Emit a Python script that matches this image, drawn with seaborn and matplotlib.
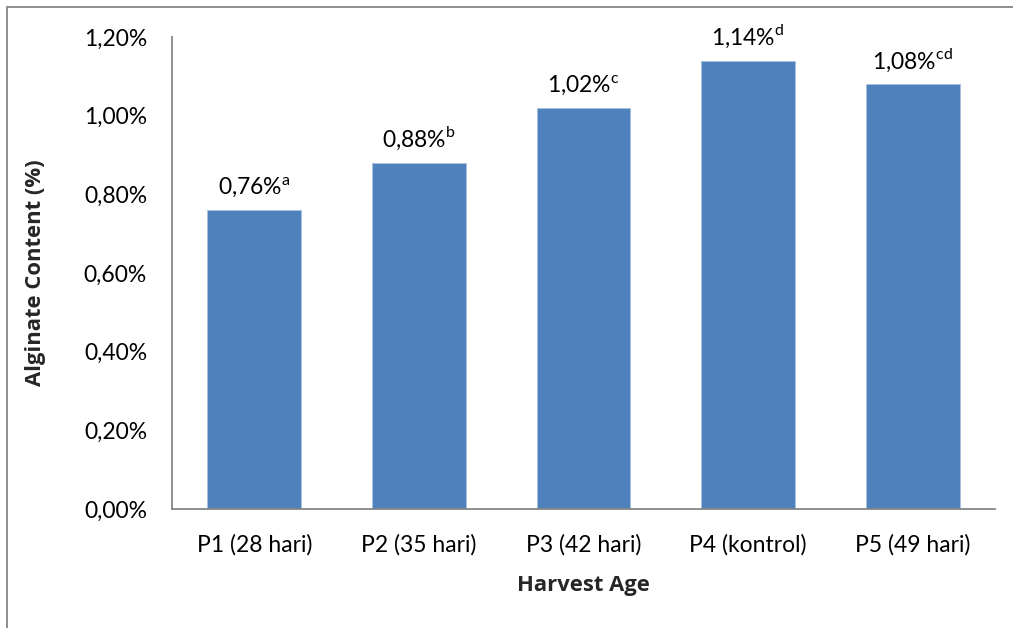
import matplotlib
matplotlib.use("Agg")
import matplotlib.pyplot as plt
import seaborn as sns
import pandas as pd
from matplotlib.ticker import FuncFormatter

categories = ["P1 (28 hari)", "P2 (35 hari)", "P3 (42 hari)", "P4 (kontrol)", "P5 (49 hari)"]
values = [0.76, 0.88, 1.02, 1.14, 1.08]
letters = ["a", "b", "c", "d", "cd"]
y_ticks = [0.0, 0.2, 0.4, 0.6, 0.8, 1.0, 1.2]

sns.set_theme(style="white")
plt.rcParams["font.family"] = ["Lato", "DejaVu Sans"]
plt.rcParams["mathtext.fontset"] = "custom"
plt.rcParams["mathtext.rm"] = "Lato"

FS = 16.5

df = pd.DataFrame({"cat": categories, "val": values})

fig = plt.figure(figsize=(10.13, 6.28), dpi=100)
ax = fig.add_axes([172 / 1013, 1 - 509 / 628, (995 - 172) / 1013, (509 - 37) / 628])

sns.barplot(data=df, x="cat", y="val", color="#4F81BD", saturation=1,
            width=0.57, edgecolor="#A9C1E0", linewidth=0.6, ax=ax)

ax.set_ylim(0, 1.2)
ax.set_yticks(y_ticks)
ax.yaxis.set_major_formatter(FuncFormatter(lambda v, p: f"{v:.2f}%".replace(".", ",")))
ax.tick_params(axis="both", length=0, labelsize=FS, colors="black")
ax.tick_params(axis="y", pad=18)
ax.tick_params(axis="x", pad=18)

for s in ["top", "right"]:
    ax.spines[s].set_visible(False)
for s in ["left", "bottom"]:
    ax.spines[s].set_color("#868686")
    ax.spines[s].set_linewidth(1.3)

for i, (v, l) in enumerate(zip(values, letters)):
    txt = f"{v:.2f}%".replace(".", ",") + r"$^{\mathrm{" + l + "}}$"
    ax.text(i, v + 0.027, txt, ha="center", va="bottom", fontsize=FS, color="black")

bold = dict(family=["Open Sans", "DejaVu Sans"], fontweight="bold", fontsize=15.8)
ax.set_xlabel("Harvest Age", labelpad=14, **bold)
ax.set_ylabel("Alginate Content (%)", labelpad=27, **bold)

# outer frame around the figure
fig.add_artist(plt.Line2D([7 / 1013, 1.0], [1 - 7 / 628, 1 - 7 / 628], color="#868686", lw=1.3,
                          transform=fig.transFigure))
fig.add_artist(plt.Line2D([7 / 1013, 7 / 1013], [0.0, 1 - 7 / 628], color="#868686", lw=1.3,
                          transform=fig.transFigure))

fig.savefig("out.png", dpi=100)
